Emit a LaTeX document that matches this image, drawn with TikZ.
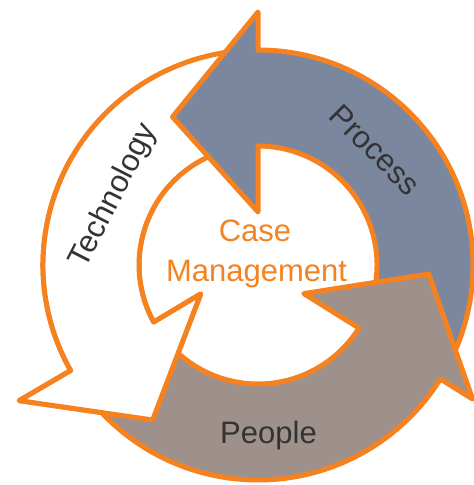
\documentclass[tikz,border=0pt]{standalone}
\usepackage{fontspec}
\setmainfont{Liberation Sans}
\definecolor{orangeline}{HTML}{F5821F}
\definecolor{procfill}{HTML}{7B879E}
\definecolor{peopfill}{HTML}{9E918C}
\definecolor{labeltext}{HTML}{333333}
\begin{document}
\begin{tikzpicture}[x=0.5pt,y=0.5pt,
  arrowshape/.style={draw=orangeline, line width=2.5pt, line join=round},
  lbl/.style={text=labeltext, font=\fontsize{15.5}{18}\selectfont, inner sep=0pt},
  centerlbl/.style={text=orangeline, font=\fontsize{15.5}{18}\selectfont, inner sep=0pt}]
\useasboundingbox (0,0) rectangle (474,485);
\fill[white] (0,0) rectangle (474,485);
\coordinate (O) at (258,220);
\begin{scope}[shift={(O)}]
  % Technology (first pass)
  \path[arrowshape, fill=white] (209.4:215) arc[start angle=209.4, end angle=94, radius=215]
     -- (94:119) arc[start angle=94, end angle=208.7, radius=119]
     -- (206.8:64.2) -- (235.8:187.4) -- (209.6:274.6) -- cycle;
  % Process
  \path[arrowshape, fill=procfill] (90:215) arc[start angle=90, end angle=-28, radius=215]
     -- (-28:119) arc[start angle=-28, end angle=90, radius=119]
     -- (90:53) -- (120:171) -- (90:253) -- cycle;
  % People
  \path[arrowshape, fill=peopfill] (-32:215) arc[start angle=-32, end angle=-146, radius=215]
     -- (-146:119) arc[start angle=-146, end angle=-32, radius=119]
     -- (-32:54) -- (-3:171) -- (-32:253) -- cycle;
  % Technology head again, on top of the People tail
  \begin{scope}
    \clip (0,0) -- (150:400) arc[start angle=150, end angle=300, radius=400] -- cycle;
    \path[arrowshape, fill=white] (209.4:215) arc[start angle=209.4, end angle=94, radius=215]
       -- (94:119) arc[start angle=94, end angle=208.7, radius=119]
       -- (206.8:64.2) -- (235.8:187.4) -- (209.6:274.6) -- cycle;
  \end{scope}
\end{scope}
\node[lbl, rotate=-45] (proc) at (375,335) {Process};
\node[lbl, rotate=63] (tech) at (114,289) {Technology};
\node[lbl, anchor=base] (peop) at (268.5,41) {People};
\node[centerlbl, anchor=base] (case) at (255,243) {Case};
\node[centerlbl, anchor=base] (mgmt) at (256.5,203) {Management};
\end{tikzpicture}
\end{document}
